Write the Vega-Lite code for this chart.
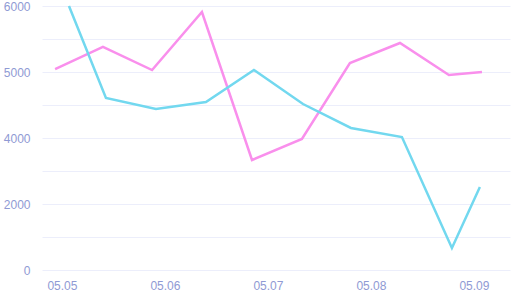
{
  "$schema": "https://vega.github.io/schema/vega-lite/v6.json",
  "width": 468,
  "height": 264,
  "autosize": {"type": "none"},
  "padding": {"left": 42, "top": 6, "right": 3, "bottom": 28},
  "background": "white",
  "config": {"view": {"stroke": null}, "font": "Liberation Sans"},
  "data": {
    "values": [
      {"t": "2024-05-04T22:24", "v": 5045, "s": "A"},
      {"t": "2024-05-05T09:33", "v": 5379, "s": "A"},
      {"t": "2024-05-05T21:00", "v": 5030, "s": "A"},
      {"t": "2024-05-06T08:37", "v": 5909, "s": "A"},
      {"t": "2024-05-06T20:17", "v": 3333, "s": "A"},
      {"t": "2024-05-07T07:55", "v": 3970, "s": "A"},
      {"t": "2024-05-07T19:06", "v": 5136, "s": "A"},
      {"t": "2024-05-08T06:46", "v": 5439, "s": "A"},
      {"t": "2024-05-08T18:10", "v": 4955, "s": "A"},
      {"t": "2024-05-09T01:52", "v": 5000, "s": "A"},
      {"t": "2024-05-05T01:38", "v": 6000, "s": "B"},
      {"t": "2024-05-05T10:15", "v": 4606, "s": "B"},
      {"t": "2024-05-05T21:54", "v": 4439, "s": "B"},
      {"t": "2024-05-06T09:33", "v": 4545, "s": "B"},
      {"t": "2024-05-06T20:44", "v": 5030, "s": "B"},
      {"t": "2024-05-07T08:10", "v": 4515, "s": "B"},
      {"t": "2024-05-07T19:20", "v": 4152, "s": "B"},
      {"t": "2024-05-08T07:13", "v": 4015, "s": "B"},
      {"t": "2024-05-08T18:52", "v": 667, "s": "B"},
      {"t": "2024-05-09T01:23", "v": 2515, "s": "B"}
    ]
  },
  "mark": {"type": "line", "strokeWidth": 2.5, "clip": false},
  "encoding": {
    "x": {
      "field": "t",
      "type": "temporal",
      "scale": {
        "domain": [
          {"year": 2024, "month": 5, "date": 4, "hours": 19, "minutes": 21},
          {"year": 2024, "month": 5, "date": 9, "hours": 8, "minutes": 24}
        ],
        "nice": false
      },
      "axis": {
        "title": null,
        "grid": false,
        "domain": false,
        "ticks": false,
        "format": "%m.%d",
        "values": [
          {"year": 2024, "month": 5, "date": 5},
          {"year": 2024, "month": 5, "date": 6},
          {"year": 2024, "month": 5, "date": 7},
          {"year": 2024, "month": 5, "date": 8},
          {"year": 2024, "month": 5, "date": 9}
        ],
        "labelColor": "#8f9ad4",
        "labelFontSize": 12,
        "labelPadding": 10,
        "labelFlush": false
      }
    },
    "y": {
      "field": "v",
      "type": "quantitative",
      "scale": {"domain": [0, 4000, 6000], "range": [264, 132, 0], "zero": false, "nice": false},
      "axis": {
        "title": null,
        "domain": false,
        "ticks": false,
        "values": [0, 1000, 2000, 3000, 4000, 4500, 5000, 5500, 6000],
        "labelExpr": "(datum.value == 1000 || datum.value == 3000 || datum.value == 4500 || datum.value == 5500) ? '' : format(datum.value, 'd')",
        "gridColor": "#eceefb",
        "gridWidth": 1,
        "labelColor": "#8f9ad4",
        "labelFontSize": 12,
        "labelPadding": 12,
        "labelFlush": false
      }
    },
    "color": {
      "field": "s",
      "type": "nominal",
      "scale": {"domain": ["A", "B"], "range": ["#f98fec", "#72d8ef"]},
      "legend": null
    }
  }
}
